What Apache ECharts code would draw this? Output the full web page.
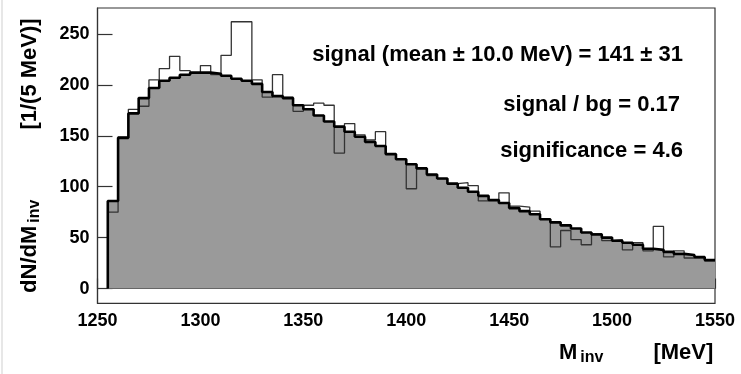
<!DOCTYPE html>
<html>
<head>
<meta charset="utf-8">
<script src="https://cdn.jsdelivr.net/npm/echarts@6/dist/echarts.min.js"></script>
<style>
html,body{margin:0;padding:0;background:#fff;}
#c{width:741px;height:374px;}
</style>
</head>
<body>
<div id="c"></div>
<script>
// Bin lower edges (MeV), 5 MeV bins
const binEdges = [1255,1260,1265,1270,1275,1280,1285,1290,1295,1300,1305,1310,1315,1320,1325,1330,1335,1340,1345,1350,
  1355,1360,1365,1370,1375,1380,1385,1390,1395,1400,1405,1410,1415,1420,1425,1430,1435,1440,1445,1450,
  1455,1460,1465,1470,1475,1480,1485,1490,1495,1500,1505,1510,1515,1520,1525,1530,1535,1540,1545];
const binUpperEnd = 1550;
// Background (grey filled) histogram
const bgCounts = [86,148,172,187,197,204,207,210,212,212,211,209,206,204,201,193,189,187,180,176,
  170,164,159,154,149,144,140,132,127,122,118,112,108,103,99,95,91,87,84,79,
  76,73,68,65,62,59,55,53,50,47,45,43,39,38,36,34,33,31,28];
// Measured (open) histogram
const dataCounts = [75,149,176,179,205,216,228,214,212,219,210,229,262,262,205,188,210,188,174,180,
  182,180,133,162,151,146,154,132,127,98,118,111,108,103,104,101,86,86,94,81,
  80,76,68,41,57,48,43,54,47,48,38,45,37,61,31,37,30,30,27];
const xTicks = [1250,1300,1350,1400,1450,1500,1550];
const yTicks = [0,50,100,150,200,250];
const statLines = ['signal (mean \u00b1 10.0 MeV) = 141 \u00b1 31', 'signal / bg = 0.17', 'significance = 4.6'];

function stepPoints(counts){
  const pts = [[binEdges[0], 0]];
  binEdges.forEach((e,i)=>pts.push([e, counts[i]]));
  pts.push([binUpperEnd, counts[counts.length-1]]);
  return pts;
}

const FONT = 'Liberation Sans, Arial, sans-serif';
const chart = echarts.init(document.getElementById('c'), null, {renderer:'canvas'});
chart.setOption({
  animation:false,
  backgroundColor:'#fff',
  grid:{left:97.5, right:26, top:8, bottom:70.7, show:true, borderColor:'#333', borderWidth:1.2,
    backgroundColor:'transparent', containLabel:false, outerBoundsMode:'none'},
  xAxis:{
    type:'value', min:1250, max:1550, interval:50,
    axisLine:{show:true, lineStyle:{color:'#333', width:1.2}},
    axisTick:{show:true, inside:true, length:10, lineStyle:{color:'#333', width:1.2}},
    axisLabel:{show:true, margin:9, color:'#000', fontFamily:FONT, fontWeight:'bold', fontSize:18,
      customValues:xTicks, formatter:v=>String(v)},
    splitLine:{show:false},
    name:'{m|M}{s|inv}{g| }{m|[MeV]}',
    nameLocation:'end', nameGap:-156, nameMoveOverlap:false,
    nameTextStyle:{verticalAlign:'top', padding:[51,0,0,0],
      rich:{
        m:{fontFamily:FONT, fontWeight:'bold', fontSize:22, color:'#000', lineHeight:26},
        s:{fontFamily:FONT, fontWeight:'bold', fontSize:16, color:'#000', verticalAlign:'bottom', lineHeight:18, padding:[0,0,0,3]},
        g:{width:50, fontSize:10}
      }}
  },
  yAxis:{
    type:'value', min:-14.5, max:275.5,
    axisLine:{show:true, lineStyle:{color:'#333', width:1.2}},
    axisTick:{show:true, inside:true, length:15, customValues:yTicks, lineStyle:{color:'#333', width:1.2}},
    axisLabel:{show:true, margin:8, color:'#000', fontFamily:FONT, fontWeight:'bold', fontSize:18,
      customValues:yTicks},
    splitLine:{show:false},
    name:'{a|dN/dM}{s|inv}{g| }{a|[1/(5 MeV)]}',
    nameLocation:'middle', nameRotate:90, nameGap:55, nameMoveOverlap:false,
    nameTextStyle:{padding:[0,0,0,0],
      rich:{
        a:{fontFamily:FONT, fontWeight:'bold', fontSize:22, color:'#000', lineHeight:26},
        s:{fontFamily:FONT, fontWeight:'bold', fontSize:16, color:'#000', verticalAlign:'bottom', lineHeight:18, padding:[0,0,0,3]},
        g:{width:70, fontSize:10}
      }}
  },
  series:[
    {type:'line', step:'end', data:stepPoints(bgCounts), showSymbol:false, z:1,
      lineStyle:{width:0, color:'#9a9a9a'}, areaStyle:{color:'#9a9a9a', opacity:1}, silent:true},
    {type:'line', step:'end', data:stepPoints(dataCounts), showSymbol:false, z:2,
      lineStyle:{width:1.3, color:'#333'}, silent:true},
    {type:'line', step:'end', data:stepPoints(bgCounts), showSymbol:false, z:3,
      lineStyle:{width:2.6, color:'#000'}, silent:true}
  ],
  graphic:[
    {type:'line', shape:{x1:2, y1:0, x2:2, y2:374}, style:{stroke:'#cfcfcf', lineWidth:1}},
    {type:'text', z:10, style:{text:statLines[0], x:683, y:55, align:'right', verticalAlign:'middle',
      fontFamily:FONT, fontWeight:'bold', fontSize:22, fill:'#000'}},
    {type:'text', z:10, style:{text:statLines[1], x:680, y:105, align:'right', verticalAlign:'middle',
      fontFamily:FONT, fontWeight:'bold', fontSize:22, fill:'#000'}},
    {type:'text', z:10, style:{text:statLines[2], x:683, y:151, align:'right', verticalAlign:'middle',
      fontFamily:FONT, fontWeight:'bold', fontSize:22, fill:'#000'}}
  ]
});
</script>
</body>
</html>
